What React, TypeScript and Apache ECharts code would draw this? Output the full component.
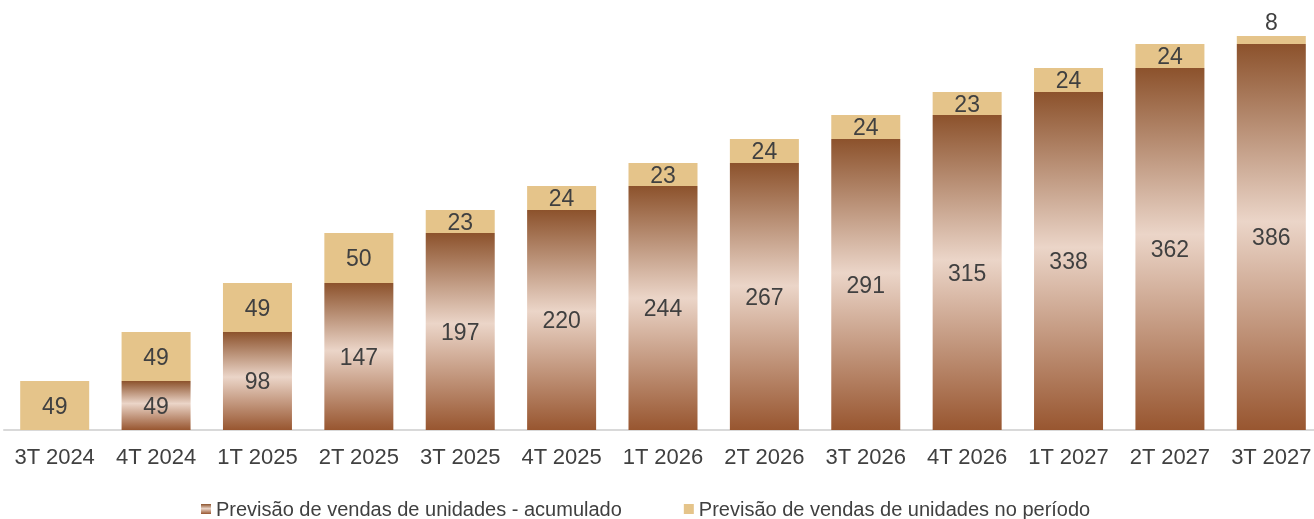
import React, { useEffect, useRef } from "react";
import * as echarts from "echarts";

const categories = ["3T 2024", "4T 2024", "1T 2025", "2T 2025", "3T 2025", "4T 2025", "1T 2026", "2T 2026", "3T 2026", "4T 2026", "1T 2027", "2T 2027", "3T 2027"];
const acumulado = [0, 49, 98, 147, 197, 220, 244, 267, 291, 315, 338, 362, 386];
const periodo = [49, 49, 49, 50, 23, 24, 23, 24, 24, 23, 24, 24, 8];
const seriesNames = ["Previsão de vendas de unidades - acumulado", "Previsão de vendas de unidades no período"];

const FONT = "Liberation Sans, Arial, sans-serif";
const TEXT = "#404040";

export default function App() {
  const ref = useRef<HTMLDivElement>(null);
  useEffect(() => {
    const chart = echarts.init(ref.current!, null, { renderer: "svg" });
    const grad = new echarts.graphic.LinearGradient(0, 0, 0, 1, [
      { offset: 0, color: "#8C522C" },
      { offset: 0.46, color: "#EBD5C8" },
      { offset: 1, color: "#985630" },
    ]);
    chart.setOption({
      animation: false,
      textStyle: { fontFamily: FONT },
      grid: { left: 4, right: 0, top: 30, bottom: 89 },
      xAxis: {
        type: "category",
        data: categories,
        axisLine: { lineStyle: { color: "#D9D9D9", width: 2 } },
        axisTick: { show: false },
        axisLabel: { color: TEXT, fontSize: 22, margin: 15, fontFamily: FONT, interval: 0 },
      },
      yAxis: { type: "value", min: 0, max: 400, show: false, splitLine: { show: false } },
      legend: {
        bottom: 0,
        left: 201,
        padding: 0,
        icon: "rect",
        itemWidth: 10,
        itemHeight: 10,
        itemGap: 62,
        textStyle: { color: TEXT, fontSize: 20, fontFamily: FONT },
        data: seriesNames,
      },
      series: [
        {
          name: seriesNames[0],
          type: "bar",
          stack: "s",
          barWidth: 69,
          itemStyle: { color: grad },
          label: {
            show: true,
            position: "inside",
            color: TEXT,
            fontSize: 23,
            fontFamily: FONT,
            formatter: (p: any) => (p.value ? String(p.value) : ""),
          },
          data: acumulado,
        },
        {
          name: seriesNames[1],
          type: "bar",
          stack: "s",
          barWidth: 69,
          itemStyle: { color: "#E5C48A" },
          label: { show: true, position: "inside", color: TEXT, fontSize: 23, fontFamily: FONT },
          data: periodo.map((v) =>
            v < 15 ? { value: v, label: { position: "top", distance: 3 } } : v
          ),
        },
      ],
    });
    return () => chart.dispose();
  }, []);
  return <div ref={ref} style={{ position: "fixed", left: 0, top: 0, width: 1322, height: 519 }} />;
}
